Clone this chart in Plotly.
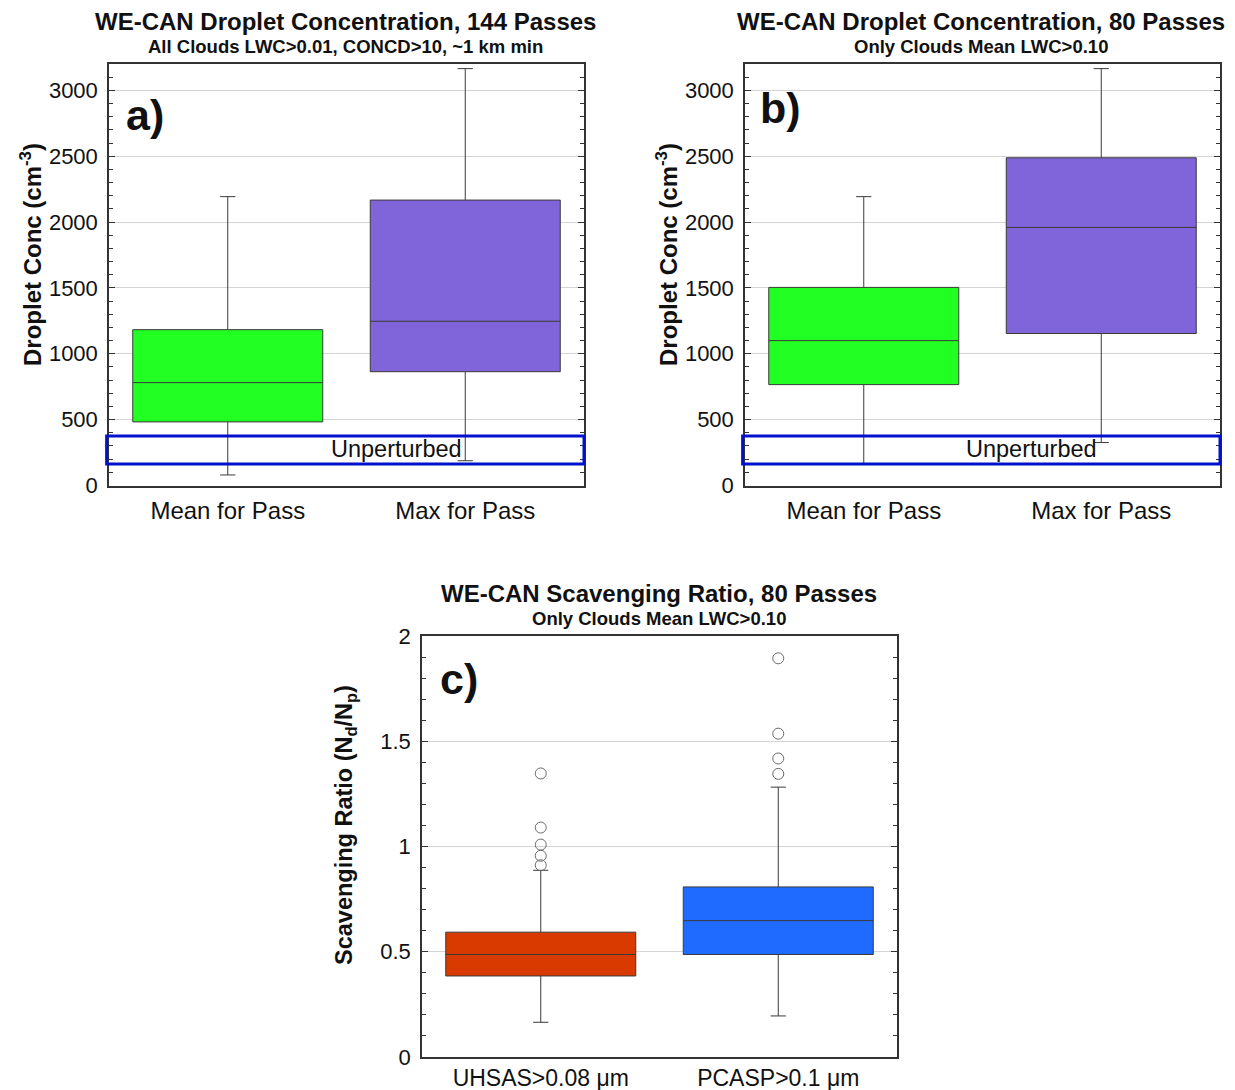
import plotly.graph_objects as go

W, H = 1235, 1090
OFF = 8  # page body margin
FW, FH = W - OFF, H - OFF
FONT = "Liberation Sans, Arial, sans-serif"

# ---------------- data ----------------
cats_ab = ["Mean for Pass", "Max for Pass"]
# panel a (144 passes)
a_q1 = [483, 864]
a_med = [781, 1247]
a_q3 = [1183, 2167]
a_lo = [80, 188]
a_hi = [2193, 3165]
# panel b (80 passes)
b_q1 = [766, 1154]
b_med = [1100, 1959]
b_q3 = [1504, 2488]
b_lo = [167, 326]
b_hi = [2193, 3165]
# unperturbed band
unpert_lo, unpert_hi = 163, 376

cats_c = ["UHSAS>0.08 μm", "PCASP>0.1 μm"]
c_q1 = [0.385, 0.487]
c_med = [0.487, 0.648]
c_q3 = [0.593, 0.808]
c_lo = [0.165, 0.195]
c_hi = [0.887, 1.282]
c_out_uhsas = [0.911, 0.956, 1.009, 1.090, 1.347]
c_out_pcasp = [1.345, 1.418, 1.536, 1.894]

colors_ab = ["#22FF22", "#8064D9"]
colors_c = ["#D83A00", "#1F6BFF"]

fig = go.Figure()


def px_x(p):
    return (p - OFF) / FW


def px_y(p):
    return 1 - (p - OFF) / FH


def add_boxes(cats, q1, med, q3, lo, hi, colors, xa, ya):
    for i, c in enumerate(cats):
        fig.add_trace(go.Box(
            x=[c], q1=[q1[i]], median=[med[i]], q3=[q3[i]],
            lowerfence=[lo[i]], upperfence=[hi[i]],
            fillcolor=colors[i], line=dict(color="#3a3a3a", width=1),
            whiskerwidth=0.08, boxpoints=False, showlegend=False,
            xaxis=xa, yaxis=ya, hoverinfo="skip"))


add_boxes(cats_ab, a_q1, a_med, a_q3, a_lo, a_hi, colors_ab, "x", "y")
add_boxes(cats_ab, b_q1, b_med, b_q3, b_lo, b_hi, colors_ab, "x2", "y2")
add_boxes(cats_c, c_q1, c_med, c_q3, c_lo, c_hi, colors_c, "x3", "y3")

fig.add_trace(go.Scatter(
    x=[cats_c[0]] * len(c_out_uhsas) + [cats_c[1]] * len(c_out_pcasp),
    y=c_out_uhsas + c_out_pcasp, mode="markers",
    marker=dict(symbol="circle-open", size=11, color="#6a6a6a", line=dict(width=1)),
    showlegend=False, xaxis="x3", yaxis="y3", hoverinfo="skip"))

# domains (pixel based, screen coordinates)
dom_a = [px_x(109), px_x(584)]
dom_b = [px_x(745), px_x(1220)]
dom_c = [px_x(422), px_x(897)]
ytop = [px_y(485.5), px_y(64)]
ybot = [px_y(1057), px_y(636)]


def xcommon(standoff, size=24):
    return dict(showline=True, linecolor="#333333", linewidth=1.5, mirror=True,
                ticks="", showgrid=False, zeroline=False, ticklabelstandoff=standoff,
                automargin=False,
                tickfont=dict(family=FONT, size=size, color="#111111"),
                range=[-0.5, 1.5], fixedrange=True)


def ycommon(rng, dtick, mdtick):
    return dict(showline=True, linecolor="#333333", linewidth=1.5, mirror="ticks",
                ticks="inside", ticklen=6, tickcolor="#333333", tickwidth=1.2,
                range=rng, dtick=dtick, tick0=0, automargin=False,
                showgrid=True, gridcolor="#d4d4d4", gridwidth=1, zeroline=False,
                minor=dict(dtick=mdtick, ticks="inside", ticklen=4,
                           tickcolor="#333333", showgrid=False),
                ticklabelstandoff=5,
                tickfont=dict(family=FONT, size=22, color="#111111"))


fig.update_layout(
    width=FW, height=FH, autosize=False,
    margin=dict(l=0, r=0, t=0, b=0, pad=0),
    paper_bgcolor="white", plot_bgcolor="white",
    boxgap=0.2, boxgroupgap=0, boxmode="overlay",
    font=dict(family=FONT, color="#111111"),
    xaxis=dict(domain=dom_a, anchor="y", **xcommon(3)),
    yaxis=dict(domain=ytop, anchor="x", **ycommon([0, 3200], 500, 100)),
    xaxis2=dict(domain=dom_b, anchor="y2", **xcommon(3)),
    yaxis2=dict(domain=ytop, anchor="x2", **ycommon([0, 3200], 500, 100)),
    xaxis3=dict(domain=dom_c, anchor="y3", **xcommon(0, 23)),
    yaxis3=dict(domain=ybot, anchor="x3", **ycommon([0, 2], 0.5, 0.1)),
)

# Unperturbed bands
for xr, yr in [("x domain", "y"), ("x2 domain", "y2")]:
    fig.add_shape(type="rect", xref=xr, yref=yr, x0=-0.005, x1=1.0,
                  y0=unpert_lo, y1=unpert_hi,
                  line=dict(color="#0010CC", width=3), fillcolor="rgba(0,0,0,0)")

ann = []


def text(x, y, s, size, bold=False, angle=0, xanchor="center"):
    ann.append(dict(x=px_x(x), y=px_y(y), xref="paper", yref="paper", text=(f"<b>{s}</b>" if bold else s),
                    showarrow=False, textangle=angle, xanchor=xanchor, yanchor="middle",
                    font=dict(family=FONT, size=size, color="#111111")))


text(345, 21, "WE-CAN Droplet Concentration, 144 Passes", 24, bold=True)
text(345, 46, "All Clouds LWC>0.01, CONCD>10, ~1 km min", 18.5, bold=True)
text(981, 21, "WE-CAN Droplet Concentration, 80 Passes", 24, bold=True)
text(981, 46, "Only Clouds Mean LWC>0.10", 18.5, bold=True)
text(659, 593, "WE-CAN Scavenging Ratio, 80 Passes", 24, bold=True)
text(659, 618, "Only Clouds Mean LWC>0.10", 18.5, bold=True)

text(31, 255, "Droplet Conc (cm<sup>-3</sup>)", 24, bold=True, angle=-90)
text(667, 255, "Droplet Conc (cm<sup>-3</sup>)", 24, bold=True, angle=-90)
text(345, 825, "Scavenging Ratio (N<sub>d</sub>/N<sub>p</sub>)", 23.5, bold=True, angle=-90)

text(124, 115, "a)", 43, bold=True, xanchor="left")
text(758, 108, "b)", 43, bold=True, xanchor="left")
text(438, 679, "c)", 43, bold=True, xanchor="left")

text(396, 449, "Unperturbed", 23.5)
text(1031, 449, "Unperturbed", 23.5)

fig.update_layout(annotations=ann)

fig.write_html("out.html")
